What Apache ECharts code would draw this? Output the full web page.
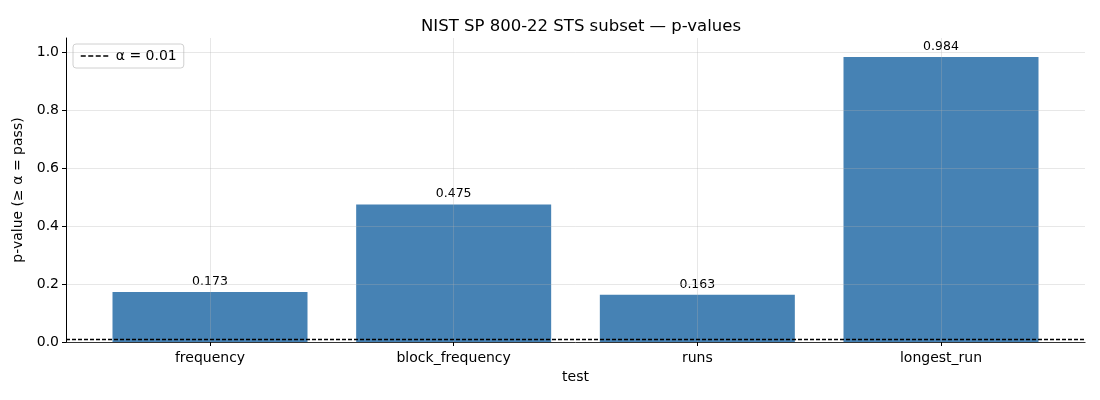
<!DOCTYPE html>
<html>
<head>
<meta charset="utf-8">
<script src="https://cdn.jsdelivr.net/npm/echarts@6/dist/echarts.min.js"></script>
<style>
html,body{margin:0;padding:0;background:#fff;}
#chart{width:1100px;height:400px;}
</style>
</head>
<body>
<div id="chart"></div>
<script>
var tests = ['frequency', 'block_frequency', 'runs', 'longest_run'];
var pValues = [0.173, 0.475, 0.163, 0.984];
var alpha = 0.01;
var yTicks = [0, 0.2, 0.4, 0.6, 0.8, 1.0];

var chart = echarts.init(document.getElementById('chart'));
var font = 'DejaVu Sans';
var gridColor = 'rgba(176,176,176,0.3)';

chart.setOption({
    animation: false,
    textStyle: { fontFamily: font },
    title: {
        text: 'NIST SP 800-22 STS subset — p-values',
        left: 576, top: 13, textAlign: 'center',
        textStyle: { fontFamily: font, fontSize: 16.5, fontWeight: 'normal', color: '#000' }
    },
    legend: {
        data: ['α = 0.01'],
        left: 73, top: 44,
        padding: [5, 7, 5, 7],
        itemWidth: 30, itemHeight: 10, itemGap: 10,
        borderColor: '#d0d0d0', borderWidth: 1, borderRadius: 3,
        backgroundColor: '#fff',
        itemStyle: { opacity: 0 },
        lineStyle: { color: '#000', width: 1.5, type: [5, 2.5] },
        textStyle: { fontFamily: font, fontSize: 14, color: '#000' }
    },
    grid: [
        { left: 66, right: 15, top: 38, bottom: 58 },
        { left: 210, right: 159, top: 38, bottom: 58 }
    ],
    xAxis: [{
        gridIndex: 0, type: 'value', min: 0, max: 1,
        name: 'test', nameLocation: 'middle', nameGap: 28,
        nameTextStyle: { fontFamily: font, fontSize: 14, color: '#000' },
        axisLine: { show: true, lineStyle: { color: '#000', width: 1 } },
        axisTick: { show: false }, axisLabel: { show: false }, splitLine: { show: false }
    }, {
        gridIndex: 1, type: 'category', data: tests, boundaryGap: false, z: 5,
        axisLine: { show: false },
        axisTick: { show: true, length: 4, inside: false, lineStyle: { color: '#000' } },
        axisLabel: { fontFamily: font, fontSize: 14, color: '#000', margin: 9 },
        splitLine: { show: true, lineStyle: { color: gridColor, width: 1 } }
    }],
    yAxis: [{
        gridIndex: 0, type: 'value', min: 0, max: 1.05, interval: 0.2, z: 5,
        name: 'p-value (≥ α = pass)', nameLocation: 'middle', nameGap: 34,
        nameTextStyle: { fontFamily: font, fontSize: 14, color: '#000' },
        axisLine: { show: true, lineStyle: { color: '#000', width: 1 } },
        axisTick: { show: true, length: 4, customValues: yTicks, lineStyle: { color: '#000' } },
        axisLabel: {
            fontFamily: font, fontSize: 14, color: '#000', margin: 7,
            customValues: yTicks,
            formatter: function (v) { return v.toFixed(1); }
        },
        splitLine: {
            show: true,
            lineStyle: { color: [gridColor, gridColor, gridColor, gridColor, gridColor, gridColor, 'rgba(0,0,0,0)'], width: 1 }
        }
    }, {
        gridIndex: 1, type: 'value', min: 0, max: 1.05, show: false, splitLine: { show: false }
    }],
    series: [{
        name: 'p-value',
        type: 'bar',
        xAxisIndex: 1, yAxisIndex: 1,
        data: pValues,
        barWidth: 195,
        z: 2,
        itemStyle: { color: '#4682b4' },
        label: {
            show: true, position: 'top', distance: 4,
            fontFamily: font, fontSize: 12.5, color: '#000',
            formatter: function (p) { return p.value.toFixed(3); }
        }
    }, {
        name: 'α = 0.01',
        type: 'line',
        xAxisIndex: 0, yAxisIndex: 0,
        data: [],
        symbol: 'none',
        showSymbol: false,
        z: 6,
        lineStyle: { color: '#000', width: 1.2, type: [4, 2] },
        itemStyle: { color: '#000' },
        markLine: {
            silent: true, symbol: 'none', z: 6,
            label: { show: false },
            lineStyle: { color: '#000', width: 1.3, type: [4, 2] },
            data: [{ yAxis: alpha }]
        }
    }]
});
</script>
</body>
</html>
